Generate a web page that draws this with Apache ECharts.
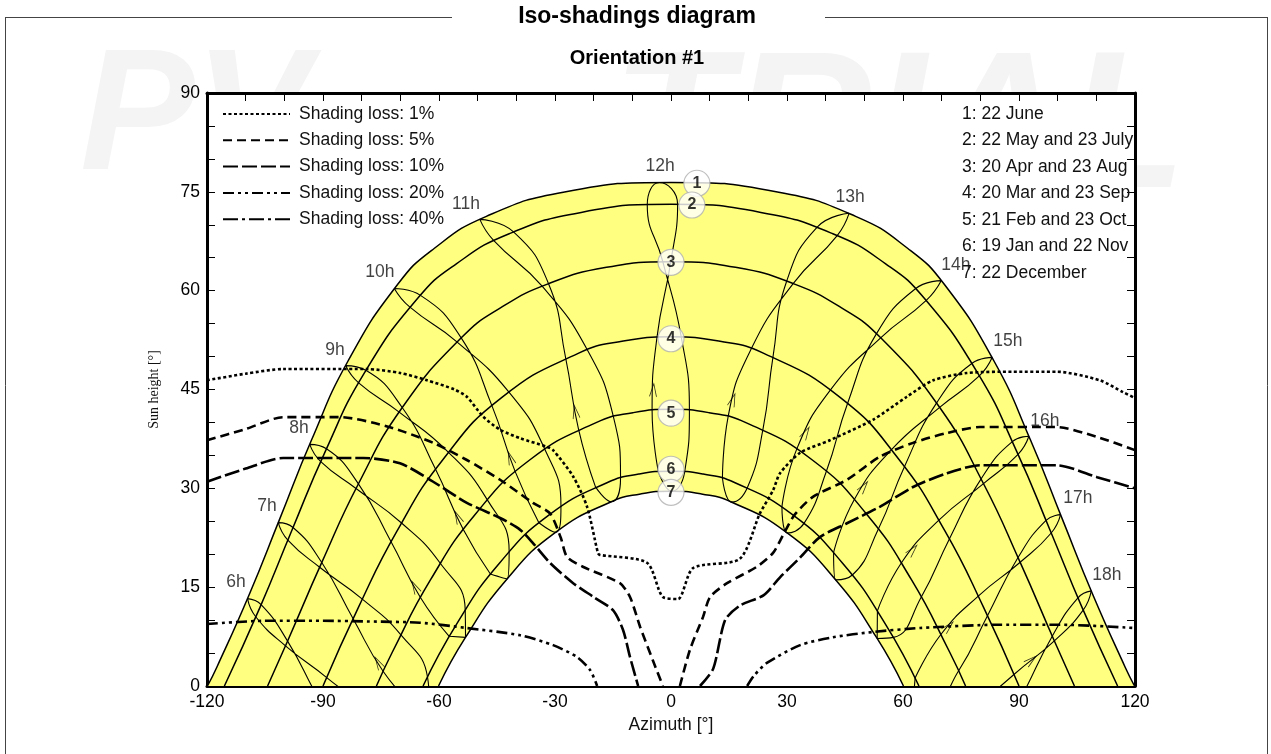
<!DOCTYPE html>
<html><head><meta charset="utf-8">
<script src="https://cdn.jsdelivr.net/npm/echarts@6/dist/echarts.min.js"></script>
<style>html,body{margin:0;padding:0;background:#fff}#c{width:1271px;height:754px}</style>
</head><body><div id="c"></div>
<script>
// ---------- axis definition ----------
const xMin = -120, xMax = 120, xStep = 10;
const yMin = 0, yMax = 90, yStep = 5;
const xTickLabels = ['-120','-90','-60','-30','0','30','60','90','120'];
const yTickLabels = ['0','15','30','45','60','75','90'];

// ---------- sun paths (azimuth, height) per date ----------
const dateNames = ['1: 22 June','2: 22 May and 23 July','3: 20 Apr and 23 Aug','4: 20 Mar and 23 Sep','5: 21 Feb and 23 Oct','6: 19 Jan and 22 Nov','7: 22 December'];
const path1 = [[-119.88,0],[-117.46,2.85],[-109.1,13.85],[-101.16,25.40],[-93.0,37.29],[-83.6,49.25],[-70.72,60.93],[-61.26,66.40],[-47.75,71.28],[-27.53,74.98],[0,76.43],[27.53,74.98],[47.75,71.28],[61.26,66.40],[70.72,60.93],[83.6,49.25],[93.0,37.29],[101.16,25.40],[109.1,13.85],[117.46,2.85],[119.88,0]];
const path2 = [[-115.5,0],[-106.3,11.93],[-98.04,23.64],[-89.43,35.58],[-79.33,47.49],[-65.4,58.91],[-55.43,64.11],[-41.85,68.64],[-23.23,71.88],[0,73.1],[23.23,71.88],[41.85,68.64],[55.43,64.11],[65.4,58.91],[79.33,47.49],[89.43,35.58],[98.04,23.64],[106.3,11.93],[115.5,0]];
const path3 = [[-104.33,0],[-99.15,6.83],[-90.31,18.76],[-80.83,30.70],[-69.5,42.27],[-54.24,52.84],[-44.11,57.38],[-31.63,61.07],[-16.68,63.54],[0,64.4],[16.68,63.54],[31.63,61.07],[44.11,57.38],[54.24,52.84],[69.5,42.27],[80.83,30.70],[90.31,18.76],[99.15,6.83],[104.33,0]];
const path4 = [[-90,0],[-80.84,11.93],[-70.84,23.53],[-58.96,34.38],[-43.81,43.76],[-24.0,50.48],[-12.34,52.35],[0,52.99],[12.34,52.35],[24.0,50.48],[43.81,43.76],[58.96,34.38],[70.84,23.53],[80.84,11.93],[90,0]];
const path5 = [[-76.18,0],[-72.15,5.05],[-62.22,16.09],[-50.6,26.07],[-36.47,34.34],[-19.36,39.97],[-9.85,41.48],[0,42.0],[9.85,41.48],[19.36,39.97],[36.47,34.34],[50.6,26.07],[62.22,16.09],[72.15,5.05],[76.18,0]];
const path6 = [[-64.12,0],[-55.37,9.47],[-44.38,18.63],[-31.43,26.0],[-16.42,30.88],[-8.31,32.16],[0,32.6],[8.31,32.16],[16.42,30.88],[31.43,26.0],[44.38,18.63],[55.37,9.47],[64.12,0]];
const path7 = [[-60.12,0],[-53.23,7.30],[-42.5,16.18],[-29.96,23.27],[-15.59,27.93],[-7.88,29.14],[0,29.56],[7.88,29.14],[15.59,27.93],[29.96,23.27],[42.5,16.18],[53.23,7.30],[60.12,0]];

// ---------- hour lines (Jan..Dec order) ----------
const hourNames = ['6h','7h','8h','9h','10h','11h','12h','13h','14h','15h','16h','17h','18h'];
const hour6  = [[-75.08,-14.35],[-83.35,-9.51],[-91.31,-1.74],[-99.16,6.81],[-106.01,12.34],[-109.52,13.26],[-107.35,10.47],[-99.70,6.10],[-89.04,1.28],[-79.06,-3.75],[-71.70,-9.67],[-70.83,-13.75]];
const hour7  = [[-66.63,-3.04],[-74.46,2.24],[-82.21,10.21],[-90.32,18.74],[-97.75,24.06],[-101.57,24.79],[-99.09,22.14],[-90.87,18.02],[-79.83,13.19],[-69.91,7.79],[-62.98,1.38],[-62.46,-2.76]];
const hour8  = [[-57.36,7.54],[-64.84,13.48],[-72.40,21.89],[-80.84,30.68],[-89.11,36.0],[-93.44,36.67],[-90.58,34.06],[-81.46,29.97],[-69.69,24.74],[-59.67,18.63],[-53.22,11.56],[-53.14,7.38]];
const hour9  = [[-46.71,16.99],[-53.75,23.79],[-60.89,32.89],[-69.52,42.26],[-78.93,47.91],[-84.15,48.63],[-80.78,46.0],[-70.30,41.57],[-57.55,35.47],[-47.54,28.29],[-41.86,20.41],[-42.40,16.25]];
const hour10 = [[-34.17,24.78],[-40.32,32.58],[-46.32,42.55],[-54.26,52.83],[-64.79,59.29],[-71.56,60.34],[-67.59,57.53],[-55.37,52.24],[-41.96,44.64],[-32.73,36.05],[-28.46,27.32],[-29.84,23.32]];
const hour11 = [[-19.53,30.22],[-23.92,38.99],[-27.24,49.77],[-31.67,61.06],[-40.72,68.92],[-49.45,70.82],[-45.89,67.63],[-33.33,60.68],[-21.62,51.0],[-14.92,40.92],[-13.05,31.60],[-15.46,27.96]];
const hour12 = [[-3.26,32.53],[-4.89,41.87],[-3.62,52.94],[-0.05,64.4],[1.71,73.09],[-3.05,76.41],[-6.14,73.02],[-2.11,64.39],[2.66,52.96],[4.76,41.88],[3.54,32.52],[0.14,29.56]];
const hour13 = [[13.31,31.54],[14.80,40.95],[20.76,51.19],[31.59,61.08],[42.98,68.36],[46.05,71.74],[37.81,69.65],[29.93,61.46],[26.38,49.96],[23.80,39.02],[19.79,30.16],[15.72,27.90]];
const hour14 = [[28.69,27.22],[32.62,36.10],[41.30,44.97],[54.22,52.85],[66.01,58.53],[69.88,61.52],[63.21,60.29],[53.11,53.44],[45.66,42.88],[40.21,32.63],[34.40,24.68],[30.08,23.22]];
const hour15 = [[42.05,20.27],[47.45,28.35],[57.03,35.87],[69.48,42.28],[79.73,47.07],[83.05,49.87],[77.88,48.98],[68.70,42.97],[60.37,33.29],[53.66,23.85],[46.90,16.85],[42.60,16.11]];
const hour16 = [[53.38,11.40],[59.60,18.70],[69.28,25.17],[80.82,30.72],[89.75,35.16],[92.56,37.91],[88.28,37.10],[80.20,31.43],[71.99,22.32],[64.77,13.55],[57.52,7.38],[53.32,7.22]];
const hour17 = [[63.13,1.20],[69.84,7.86],[79.47,13.65],[90.30,18.78],[98.33,23.22],[100.75,26.01],[96.99,25.14],[89.75,19.50],[81.85,10.67],[74.39,2.31],[66.78,-3.22],[62.62,-2.94]];
const hour18 = [[71.84,-9.87],[79.01,-3.67],[88.69,1.74],[99.14,6.85],[106.59,11.52],[108.68,14.44],[105.25,13.39],[98.60,7.56],[90.96,-1.28],[83.30,-9.43],[75.22,-14.55],[70.97,-13.95]];

// direction arrows on the hour lines: [azimuth, height, tilt]
const arrowPos = [[-75.68,3.5,29.7],[-66.21,15.0,27.8],[-55.17,25.6,24.7],[-41.54,34.6,19.4],[-24.72,41.6,10.2],[-4.55,44.9,-3.8],[16.0,43.4,-18.8],[34.87,38.4,-29.9],[49.81,30.2,-36.8],[62.45,20.6,-41.3],[71.74,9.0,-44.2],[93.11,3.9,-50.2]];

// hour label anchors and date-marker anchors (data coords)
const hourLabelPos = [[-112.5,15.8],[-104.5,27.3],[-96.2,39.2],[-86.9,51.0],[-75.3,62.8],[-53.0,73.2],[-2.8,78.9],[46.3,74.2],[73.7,63.9],[87.1,52.4],[96.7,40.2],[105.2,28.5],[112.7,16.8]];
const dateMarkerPos = [[6.7,76.3],[5.4,73.0],[0,64.3],[0,52.7],[0,41.4],[0,32.9],[0,29.4]];

// ---------- iso-shading loss curves ----------
const lossNames = ['Shading loss: 1%','Shading loss: 5%','Shading loss: 10%','Shading loss: 20%','Shading loss: 40%'];
const loss1 = [[-120,46.4],[-110,47.4],[-100.3,48.1],[-78.6,48.1],[-70,47.5],[-63.1,46.4],[-56,45.0],[-52.8,43.9],[-48.6,40.9],[-44.2,38.9],[-39.0,37.6],[-32.1,36.3],[-30.5,35.8],[-25.3,31.8],[-21.7,27.2],[-18.9,20.2],[-18.4,19.9],[-6.2,18.7],[-2.1,13.5],[1.8,13.2],[5.7,17.9],[17.8,19.3],[23.0,26.2],[26.4,29.7],[28.2,32.3],[33.4,35.4],[41.1,37.3],[52.2,40.4],[61.0,43.9],[67.8,46.4],[76.5,47.5],[88.4,47.7],[99.8,47.7],[110.9,46.4],[116.9,44.6],[120,43.7]];
const loss5 = [[-120,37.3],[-110,39.0],[-100.3,40.8],[-85.6,40.8],[-73.4,39.4],[-61.5,36.9],[-52.8,34.3],[-44.2,31.3],[-35.7,27.8],[-31.3,26.2],[-28.5,22.5],[-26.9,19.6],[-22.8,18.1],[-13.2,15.6],[-10.6,13.5],[-8.0,9.0],[-4.7,3.9],[-2.1,0],null,
  [2.3,0],[4.9,5.5],[8.3,10.5],[10.1,13.5],[14.5,15.6],[22.2,18.1],[26.4,20.2],[29.5,23.5],[32.0,26.0],[36.7,28.7],[45.5,31.3],[54.0,34.8],[62.6,36.9],[71.4,38.4],[79.9,39.3],[99.8,39.3],[110.2,37.8],[120,35.8]];
const loss10 = [[-120,31.0],[-110,33.0],[-100.3,34.6],[-79.6,34.6],[-70.1,33.8],[-61.5,31.0],[-52.8,27.8],[-44.2,25.5],[-39.0,23.7],[-35.7,21.7],[-31.3,18.7],[-25.3,15.6],[-20,13.5],[-15.0,11.5],[-12.4,8.5],[-10.6,4.4],[-8.5,0],null,
  [7.5,0],[10.9,2.6],[14.0,10.0],[17.8,12.2],[24.0,13.8],[28.2,16.5],[33.4,19.5],[38.5,22.6],[45.5,24.7],[54.0,27.2],[62.6,30.2],[71.4,32.3],[79.9,33.5],[99.8,33.5],[110.2,31.7],[120,30.0]];
const loss20 = [[-120,9.4],[-105,9.9],[-90,9.9],[-78.6,9.8],[-64.9,9.6],[-52.8,8.8],[-39.0,7.7],[-30.5,6.2],[-24.3,4.4],[-20.9,2.4],[-19.1,0],null,
  [19.7,0],[21.5,1.6],[24.8,3.5],[33.4,6.2],[41.9,7.4],[52.2,8.2],[64.4,8.8],[85,9.3],[100.6,9.3],[120,8.8]];
const loss40 = [];

// ---------- chart ----------
const FONT = 'Liberation Sans, Arial, sans-serif';
const paths = [path1,path2,path3,path4,path5,path6,path7];
const hours = [hour6,hour7,hour8,hour9,hour10,hour11,hour12,hour13,hour14,hour15,hour16,hour17,hour18];
const losses = [loss1,loss5,loss10,loss20,loss40];
const lossDash = [[3,2.5],[9,5],[15,4],[11,4,3,4,3,4],[15,4,3,4]];

const series = [];
paths.forEach((p, i) => {
  const s = {
    type: 'line', data: p, smooth: 0.5, symbol: 'none', silent: true,
    lineStyle: {color: '#000', width: 1.5}, z: 4
  };
  if (i === 0) { s.areaStyle = {color: '#ffff80', opacity: 1}; s.z = 2; }
  if (i === 6) { s.areaStyle = {color: '#ffffff', opacity: 1}; s.z = 3; }
  series.push(s);
});
hours.forEach(h => {
  series.push({type: 'line', data: h.concat([h[0]]), smooth: 0.5, symbol: 'none', silent: true,
    lineStyle: {color: '#000', width: 1.1}, z: 4});
});
series.push({type: 'scatter', z: 4, silent: true,
  symbol: 'path://M0,13 L4,0 L8,13', symbolSize: [7, 13], symbolKeepAspect: false,
  itemStyle: {color: 'rgba(0,0,0,0)', borderColor: '#000', borderWidth: 1},
  data: arrowPos.map(a => ({value: [a[0], a[1]], symbolRotate: a[2]}))});
losses.forEach((l, i) => {
  series.push({type: 'line', name: lossNames[i], data: l, smooth: 0.25, symbol: 'none', showSymbol: false, silent: true,
    connectNulls: false, itemStyle: {color: '#000'}, lineStyle: {color: '#000', width: 2.6, type: lossDash[i]}, z: 5});
});
series.push({type: 'scatter', symbolSize: 1, itemStyle: {color: 'rgba(0,0,0,0)'}, z: 6, silent: true,
  data: hourLabelPos.map((p, i) => ({value: p, name: hourNames[i]})),
  label: {show: true, position: 'inside', formatter: '{b}', color: '#111', fontSize: 17.5, fontFamily: FONT}});
series.push({type: 'scatter', symbol: 'circle', symbolSize: 26, z: 7, silent: true,
  itemStyle: {color: '#fff', borderColor: '#b0b0b0', borderWidth: 1.2},
  data: dateMarkerPos.map((p, i) => ({value: p, name: String(i + 1)})),
  label: {show: true, position: 'inside', formatter: '{b}', color: '#000', fontSize: 16, fontWeight: 'bold', fontFamily: FONT}});

const axisCommon = {
  axisLine: {show: true, onZero: false, lineStyle: {color: '#000', width: 3}},
  axisTick: {show: true, inside: true, length: 8, lineStyle: {color: '#000', width: 1}},
  splitLine: {show: false}
};

const graphic = [
  {type: 'text', z: -10, left: 80, top: 36, style: {text: 'PV', fontSize: 172, fontWeight: 'bold', fontStyle: 'italic', fill: '#f4f4f4', fontFamily: FONT}},
  {type: 'text', z: -10, left: 612, top: 36, style: {text: 'TRIAL', fontSize: 195, fontWeight: 'bold', fontStyle: 'italic', fill: '#f4f4f4', fontFamily: FONT}},
  {type: 'line', z: 100, shape: {x1: 5, y1: 17.5, x2: 452, y2: 17.5}, style: {stroke: '#444', lineWidth: 1}},
  {type: 'line', z: 100, shape: {x1: 825, y1: 17.5, x2: 1267.5, y2: 17.5}, style: {stroke: '#444', lineWidth: 1}},
  {type: 'line', z: 100, shape: {x1: 5.5, y1: 17, x2: 5.5, y2: 754}, style: {stroke: '#444', lineWidth: 1}},
  {type: 'line', z: 100, shape: {x1: 1267.5, y1: 17, x2: 1267.5, y2: 754}, style: {stroke: '#444', lineWidth: 1}},
  {type: 'text', z: 100, x: 637, y: 17, style: {text: 'Iso-shadings diagram', fontSize: 23, fontWeight: 'bold', fill: '#000', fontFamily: FONT, textAlign: 'center', textVerticalAlign: 'middle'}},
  {type: 'text', z: 100, x: 637, y: 58, style: {text: 'Orientation #1', fontSize: 20, fontWeight: 'bold', fill: '#000', fontFamily: FONT, textAlign: 'center', textVerticalAlign: 'middle'}}
];
dateNames.forEach((t, i) => {
  graphic.push({type: 'text', z: 100, x: 962, y: 114 + i * 26.5,
    style: {text: t, fontSize: 17.5, fill: '#111', fontFamily: FONT, textAlign: 'left', textVerticalAlign: 'middle'}});
});

const chart = echarts.init(document.getElementById('c'), null, {renderer: 'canvas'});
chart.setOption({
  animation: false,
  backgroundColor: '#fff',
  grid: {left: 207, right: 136, top: 93, bottom: 68, show: true, backgroundColor: '#fff', borderWidth: 0},
  legend: {
    data: lossNames, orient: 'vertical', left: 222, top: 105, padding: 0, itemWidth: 67, itemHeight: 14, itemGap: 8.3,
    selectedMode: false, itemStyle: {opacity: 0},
    textStyle: {fontSize: 17.5, color: '#111', fontFamily: FONT, padding: [0, 0, 0, 4]}
  },
  xAxis: [
    Object.assign({type: 'value', min: xMin, max: xMax, interval: xStep, position: 'bottom',
      name: 'Azimuth [°]', nameLocation: 'middle', nameGap: 29,
      nameTextStyle: {fontSize: 17.5, color: '#111', fontFamily: FONT},
      axisLabel: {interval: 2, fontSize: 17.5, color: '#000', fontFamily: FONT, margin: 7,
        formatter: v => (v % 30 === 0 ? xTickLabels[(v - xMin) / 30] : '')}}, axisCommon),
    Object.assign({type: 'value', min: xMin, max: xMax, interval: xStep, position: 'top', axisLabel: {show: false}}, axisCommon)
  ],
  yAxis: [
    Object.assign({type: 'value', min: yMin, max: yMax, interval: yStep, position: 'left',
      name: 'Sun height [°]', nameLocation: 'middle', nameGap: 46,
      nameTextStyle: {fontSize: 14, color: '#111', fontFamily: 'Liberation Serif, DejaVu Serif, serif'},
      axisLabel: {fontSize: 17.5, color: '#000', fontFamily: FONT, margin: 7,
        formatter: v => (v % 15 === 0 ? yTickLabels[v / 15] : '')}}, axisCommon),
    Object.assign({type: 'value', min: yMin, max: yMax, interval: yStep, position: 'right', axisLabel: {show: false}}, axisCommon)
  ],
  graphic: graphic,
  series: series
});
</script></body></html>
